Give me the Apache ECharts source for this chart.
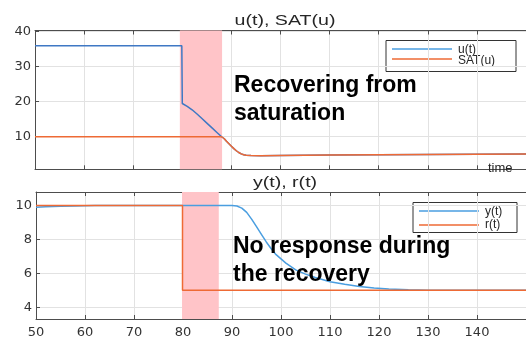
<!DOCTYPE html>
<html>
<head>
<meta charset="utf-8">
<script src="https://cdn.jsdelivr.net/npm/echarts@6/dist/echarts.min.js"></script>
<style>
html,body{margin:0;padding:0;background:#fff;}
#chart{width:526px;height:339px;}
</style>
</head>
<body>
<div id="chart"></div>
<script>
// ---- data ----
const uTime = [50, 79.9, 80, 81, 82, 83, 84, 85, 86, 87, 88, 88.5, 89, 89.5, 90, 90.5, 91, 91.5, 92, 92.5, 93, 94, 96, 100, 110, 120, 130, 140, 150];
const uVals = [36, 36, 19.5, 18.7, 17.7, 16.5, 15.2, 13.9, 12.6, 11.3, 10.0, 9.5, 8.7, 8.0, 7.3, 6.6, 6.0, 5.5, 5.1, 4.85, 4.7, 4.62, 4.6, 4.65, 4.75, 4.85, 4.95, 5.0, 5.05];
const satTime = [50, 88, 88.5, 89, 89.5, 90, 90.5, 91, 91.5, 92, 92.5, 93, 94, 96, 100, 110, 120, 130, 140, 150];
const satVals = [10, 10, 9.5, 8.7, 8.0, 7.3, 6.6, 6.0, 5.5, 5.1, 4.85, 4.7, 4.62, 4.6, 4.65, 4.75, 4.85, 4.95, 5.0, 5.05];
const yTime = [50, 52, 55, 58, 62, 90, 91, 92, 93, 94, 95, 96, 97, 98, 99, 100, 101, 103, 105, 107, 110, 113, 116, 119, 122, 126, 130, 150];
const yVals = [9.9, 9.93, 9.96, 9.98, 10, 10, 9.97, 9.85, 9.6, 9.2, 8.75, 8.3, 7.85, 7.45, 7.1, 6.85, 6.6, 6.2, 5.95, 5.75, 5.5, 5.35, 5.22, 5.13, 5.07, 5.03, 5.0, 5.0];
const rTime = [50, 79.9, 79.9, 150];
const rVals = [10, 10, 5, 5];
const topBand = [79.5, 88.1];
const bottomBand = [79.8, 87.3];
const xTicks = [50, 60, 70, 80, 90, 100, 110, 120, 130, 140];
const topYTicks = [10, 20, 30, 40];
const botYTicks = [4, 6, 8, 10];
const topTitle = 'u(t), SAT(u)';
const botTitle = 'y(t), r(t)';
const topNote = 'Recovering from\nsaturation';
const botNote = 'No response during\nthe recovery';
const topLegend = ['u(t)', 'SAT(u)'];
const botLegend = ['y(t)', 'r(t)'];

const pair = (t, v) => t.map((x, i) => [x, v[i]]);

const FONT = 'Liberation Sans, Arial, sans-serif';
const TICKFONT = 'DejaVu Sans, sans-serif';
const BLUE = '#4a9ee0';
const BLUE_TOP = '#3f78c4';
const ORANGE = '#ee6a35';
const PINK = '#ffc4c8';
const AXIS = '#4d4d4d';
const GRIDC = '#e2e2e2';

function xAx(gridIndex, position, showLabel, showSplit) {
  return {
    type: 'value', gridIndex, position, min: 50, max: 150, interval: 10,
    axisLine: { show: true, onZero: false, lineStyle: { color: AXIS, width: 1 } },
    axisTick: { show: true, inside: true, length: 4, lineStyle: { color: AXIS }, customValues: xTicks },
    axisLabel: { show: showLabel, customValues: xTicks, fontFamily: TICKFONT, fontSize: 13, color: '#333', margin: 7 },
    splitLine: { show: showSplit, lineStyle: { color: GRIDC, width: 1 } }
  };
}
function yAx(gridIndex, min, max, ticks) {
  return {
    type: 'value', gridIndex, min, max,
    axisLine: { show: true, lineStyle: { color: AXIS, width: 1 } },
    axisTick: { show: true, inside: true, length: 4, lineStyle: { color: AXIS }, customValues: ticks },
    axisLabel: { show: true, customValues: ticks, fontFamily: TICKFONT, fontSize: 13, color: '#333', margin: 4 },
    splitLine: { show: true, lineStyle: { color: GRIDC, width: 1 } }
  };
}

function legendGroup(x, y, w, h, labels, colors, lineY, textY) {
  const children = [{
    type: 'rect', shape: { x, y, width: w, height: h },
    style: { fill: '#fff', stroke: '#333', lineWidth: 1 }
  }];
  labels.forEach((lab, i) => {
    children.push({ type: 'line', shape: { x1: x + 6, y1: lineY[i], x2: x + 66, y2: lineY[i] }, style: { stroke: colors[i], lineWidth: 1.5 } });
    children.push({ type: 'text', style: { x: x + 72, y: textY[i], text: lab, fill: '#262626', font: '12px ' + FONT, verticalAlign: 'middle' } });
  });
  return { type: 'group', z: 100, children };
}

function titleText(x, y, text) {
  return { type: 'text', z: 100, x, y, scaleX: 1.4, style: { x: 0, y: 0, text, fill: '#262626', font: '14px ' + FONT, align: 'center', verticalAlign: 'middle' } };
}

const chart = echarts.init(document.getElementById('chart'), null, { renderer: 'canvas' });
chart.setOption({
  animation: false,
  backgroundColor: '#fff',
  grid: [
    { left: 35, top: 30.5, width: 493, height: 138.8 },
    { left: 36, top: 192, width: 500, height: 133.3 }
  ],
  xAxis: [
    xAx(0, 'bottom', false, true),
    xAx(0, 'top', false, false),
    xAx(1, 'bottom', true, true),
    xAx(1, 'top', false, false)
  ],
  yAxis: [
    yAx(0, 0.7, 40.35, topYTicks),
    yAx(1, 3.3, 10.8, botYTicks)
  ],
  series: [
    {
      name: topLegend[0], type: 'line', xAxisIndex: 0, yAxisIndex: 0, showSymbol: false,
      data: pair(uTime, uVals), lineStyle: { color: BLUE_TOP, width: 1.5 }, z: 3,
      markArea: { silent: true, itemStyle: { color: PINK }, data: [[{ xAxis: topBand[0] }, { xAxis: topBand[1] }]] }
    },
    {
      name: topLegend[1], type: 'line', xAxisIndex: 0, yAxisIndex: 0, showSymbol: false,
      data: pair(satTime, satVals), lineStyle: { color: ORANGE, width: 1.5 }, z: 4
    },
    {
      name: botLegend[0], type: 'line', xAxisIndex: 2, yAxisIndex: 1, showSymbol: false,
      data: pair(yTime, yVals), lineStyle: { color: BLUE, width: 1.5 }, z: 3,
      markArea: { silent: true, itemStyle: { color: PINK }, data: [[{ xAxis: bottomBand[0] }, { xAxis: bottomBand[1] }]] }
    },
    {
      name: botLegend[1], type: 'line', xAxisIndex: 2, yAxisIndex: 1, showSymbol: false,
      data: pair(rTime, rVals), lineStyle: { color: ORANGE, width: 1.5 }, z: 4
    }
  ],
  graphic: [
    titleText(285, 21, topTitle),
    titleText(285, 183, botTitle),
    { type: 'text', z: 100, style: { x: 488, y: 168, text: 'time', fill: '#262626', font: '13px ' + FONT, verticalAlign: 'middle' } },
    { type: 'text', z: 100, style: { x: 234, y: 72, text: topNote, fill: '#000', font: 'bold 23px ' + FONT, lineHeight: 28 } },
    { type: 'text', z: 100, style: { x: 233, y: 233, text: botNote, fill: '#000', font: 'bold 23px ' + FONT, lineHeight: 28 } },
    legendGroup(386, 40.5, 130, 31, topLegend, [BLUE, ORANGE], [49, 59], [50, 61]),
    legendGroup(413, 202.5, 104, 30, botLegend, [BLUE, ORANGE], [211, 225], [212, 225])
  ]
});
</script>
</body>
</html>
